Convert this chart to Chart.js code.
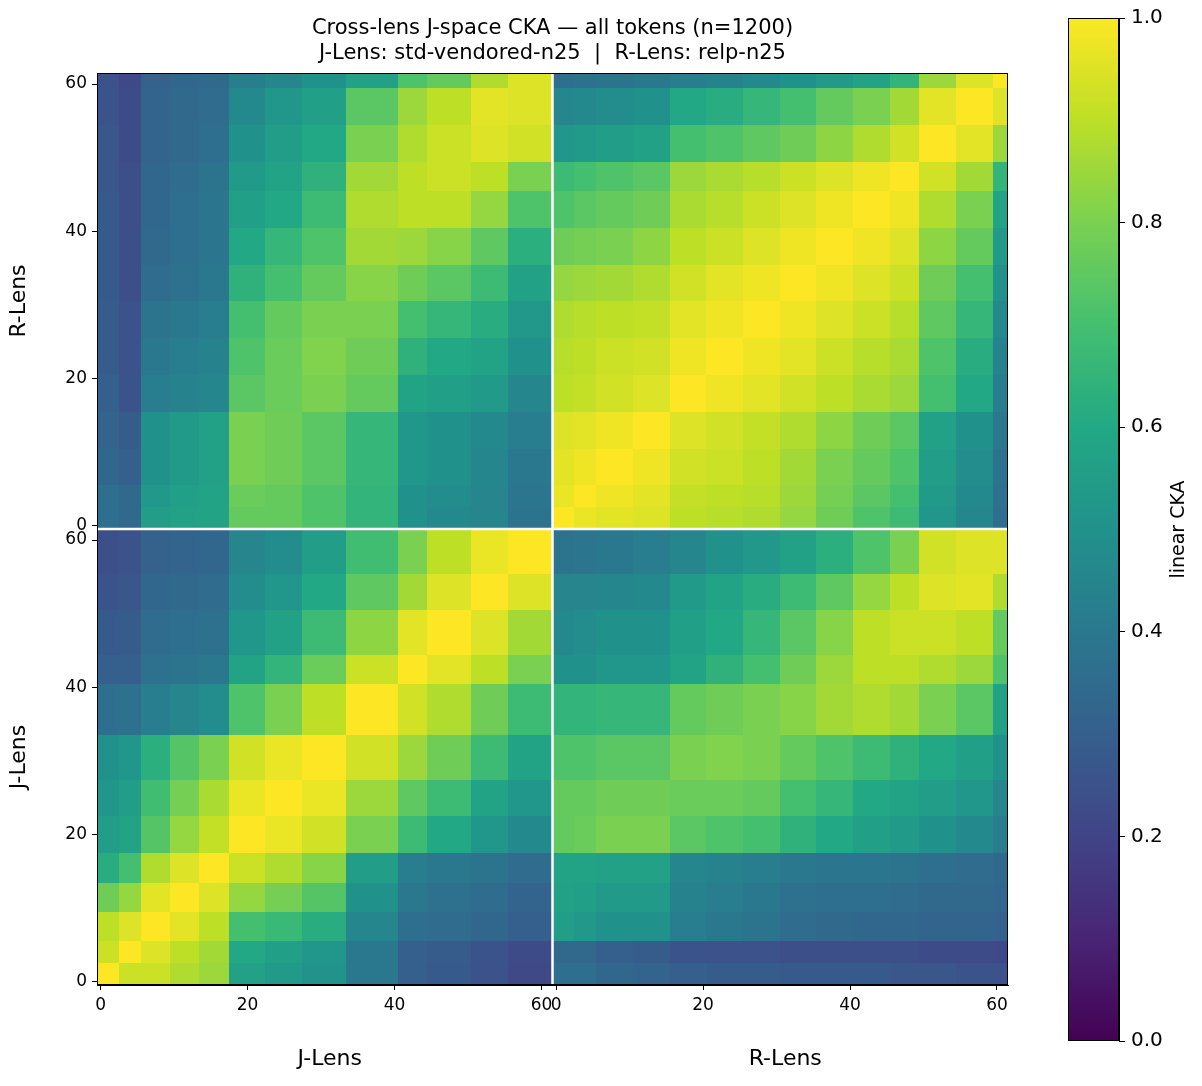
<!DOCTYPE html>
<html>
<head>
<meta charset="utf-8">
<title>Cross-lens J-space CKA</title>
<script src="https://cdn.jsdelivr.net/npm/chart.js@4.4.1/dist/chart.umd.min.js"></script>
<style>
  html, body { margin: 0; padding: 0; background: #fff; }
  #wrap { position: relative; width: 1202px; height: 1086px; }
  #main { position: absolute; left: 0; top: 0; }
  #cbar { position: absolute; left: 1040px; top: 0; }
</style>
</head>
<body>
<div id="wrap">
  <canvas id="main" width="1202" height="1086"></canvas>
  <canvas id="cbar" width="162" height="1086"></canvas>
</div>
<script>
// layer bins (edges) for each lens, 62 layers each
const nLayers = 62;
const jEdges = [0, 3, 6, 10, 14, 18, 23, 28, 34, 41, 45, 51, 56, 62];
const rEdges = [0, 3, 6, 11, 16, 21, 26, 31, 36, 41, 46, 50, 55, 60, 62];
const tickLayers = [0, 20, 40, 60];
const cbTicks = [0, 0.2, 0.4, 0.6, 0.8, 1.0];

// J-Lens vs J-Lens (row = J bin on y, column = J bin on x)
const ckaJJ = [
  [1.00, 0.92, 0.92, 0.88, 0.85, 0.57, 0.54, 0.51, 0.40, 0.30, 0.28, 0.25, 0.22],
  [0.92, 1.00, 0.95, 0.90, 0.86, 0.60, 0.56, 0.52, 0.40, 0.30, 0.29, 0.26, 0.23],
  [0.90, 0.95, 1.00, 0.96, 0.90, 0.70, 0.67, 0.62, 0.46, 0.36, 0.35, 0.33, 0.30],
  [0.78, 0.84, 0.96, 1.00, 0.95, 0.84, 0.79, 0.73, 0.50, 0.40, 0.37, 0.35, 0.32],
  [0.62, 0.70, 0.88, 0.95, 1.00, 0.92, 0.88, 0.82, 0.55, 0.42, 0.40, 0.38, 0.35],
  [0.55, 0.58, 0.73, 0.84, 0.91, 1.00, 0.97, 0.93, 0.80, 0.68, 0.60, 0.52, 0.47],
  [0.52, 0.55, 0.69, 0.79, 0.87, 0.97, 1.00, 0.97, 0.85, 0.75, 0.68, 0.58, 0.52],
  [0.50, 0.52, 0.63, 0.73, 0.80, 0.93, 0.97, 1.00, 0.93, 0.85, 0.78, 0.68, 0.58],
  [0.36, 0.37, 0.42, 0.45, 0.48, 0.72, 0.80, 0.90, 1.00, 0.93, 0.88, 0.78, 0.68],
  [0.30, 0.30, 0.37, 0.38, 0.40, 0.58, 0.65, 0.77, 0.92, 1.00, 0.96, 0.90, 0.80],
  [0.28, 0.29, 0.35, 0.36, 0.37, 0.52, 0.57, 0.68, 0.83, 0.96, 1.00, 0.95, 0.86],
  [0.26, 0.27, 0.33, 0.34, 0.35, 0.48, 0.52, 0.60, 0.75, 0.86, 0.95, 1.00, 0.95],
  [0.24, 0.25, 0.31, 0.32, 0.33, 0.45, 0.48, 0.55, 0.69, 0.80, 0.90, 0.97, 1.00]
];

// R-Lens vs R-Lens, lower triangle (row = R bin)
const ckaRR = [
  [1.00],
  [0.97, 1.00],
  [0.96, 0.98, 1.00],
  [0.95, 0.96, 0.98, 1.00],
  [0.90, 0.91, 0.93, 0.95, 1.00],
  [0.89, 0.90, 0.92, 0.93, 0.98, 1.00],
  [0.88, 0.89, 0.90, 0.91, 0.96, 0.98, 1.00],
  [0.84, 0.85, 0.86, 0.88, 0.93, 0.96, 0.98, 1.00],
  [0.78, 0.79, 0.80, 0.83, 0.90, 0.92, 0.95, 0.98, 1.00],
  [0.72, 0.74, 0.76, 0.78, 0.87, 0.89, 0.92, 0.95, 0.98, 1.00],
  [0.68, 0.70, 0.72, 0.74, 0.85, 0.87, 0.89, 0.92, 0.95, 0.98, 1.00],
  [0.52, 0.54, 0.55, 0.57, 0.70, 0.72, 0.75, 0.78, 0.83, 0.88, 0.93, 1.00],
  [0.46, 0.47, 0.48, 0.50, 0.60, 0.62, 0.66, 0.70, 0.76, 0.80, 0.86, 0.96, 1.00],
  [0.36, 0.37, 0.38, 0.40, 0.42, 0.44, 0.47, 0.50, 0.54, 0.58, 0.65, 0.85, 0.95, 1.00]
];

// R-Lens rows x J-Lens columns (cross-lens block)
const ckaRJ = [
  [0.36, 0.34, 0.55, 0.57, 0.58, 0.76, 0.76, 0.72, 0.65, 0.50, 0.47, 0.45, 0.38],
  [0.36, 0.34, 0.53, 0.56, 0.58, 0.77, 0.76, 0.72, 0.65, 0.50, 0.48, 0.45, 0.39],
  [0.33, 0.30, 0.50, 0.54, 0.57, 0.80, 0.78, 0.74, 0.66, 0.52, 0.50, 0.46, 0.40],
  [0.32, 0.29, 0.50, 0.54, 0.57, 0.80, 0.78, 0.74, 0.66, 0.52, 0.50, 0.47, 0.42],
  [0.30, 0.26, 0.42, 0.44, 0.46, 0.74, 0.77, 0.80, 0.76, 0.58, 0.56, 0.54, 0.46],
  [0.29, 0.25, 0.40, 0.42, 0.44, 0.72, 0.77, 0.81, 0.78, 0.64, 0.60, 0.58, 0.50],
  [0.29, 0.25, 0.38, 0.40, 0.42, 0.70, 0.76, 0.80, 0.80, 0.70, 0.66, 0.62, 0.53],
  [0.28, 0.24, 0.35, 0.37, 0.40, 0.64, 0.70, 0.76, 0.82, 0.78, 0.74, 0.68, 0.57],
  [0.28, 0.24, 0.34, 0.36, 0.39, 0.60, 0.66, 0.72, 0.86, 0.85, 0.82, 0.75, 0.63],
  [0.28, 0.24, 0.33, 0.36, 0.39, 0.56, 0.60, 0.68, 0.88, 0.90, 0.90, 0.84, 0.72],
  [0.27, 0.24, 0.33, 0.35, 0.38, 0.54, 0.58, 0.64, 0.86, 0.90, 0.92, 0.90, 0.80],
  [0.27, 0.23, 0.32, 0.34, 0.36, 0.50, 0.55, 0.60, 0.80, 0.88, 0.92, 0.95, 0.93],
  [0.26, 0.23, 0.32, 0.34, 0.35, 0.47, 0.52, 0.56, 0.74, 0.85, 0.90, 0.96, 0.95],
  [0.25, 0.22, 0.31, 0.33, 0.34, 0.42, 0.45, 0.50, 0.57, 0.72, 0.76, 0.88, 0.95]
];

// viridis colormap
const VIRIDIS = ['#440154', '#482475', '#414487', '#355f8d', '#2a788e', '#21918c',
                 '#22a884', '#44bf70', '#7ad151', '#bddf26', '#fde725'];
const vrgb = VIRIDIS.map(h => [1, 3, 5].map(i => parseInt(h.slice(i, i + 2), 16)));
function viridis(v) {
  v = Math.max(0, Math.min(1, v));
  const t = v * 10;
  const i = Math.min(9, Math.floor(t));
  const f = t - i;
  const a = vrgb[i], b = vrgb[i + 1];
  return 'rgb(' + a.map((c, k) => Math.round(c + (b[k] - c) * f)).join(',') + ')';
}

function fullMatrix(tri) {
  const n = tri.length, m = [];
  for (let i = 0; i < n; i++) {
    m.push([]);
    for (let j = 0; j < n; j++) m[i].push(j <= i ? tri[i][j] : tri[j][i]);
  }
  return m;
}
const RR = fullMatrix(ckaRR);

// one cell per bin pair, in index units (J layers 0..61, R layers 62..123)
const cells = [];
function addQuadrant(getVal, xEdges, yEdges, xOff, yOff) {
  for (let r = 0; r < yEdges.length - 1; r++) {
    for (let c = 0; c < xEdges.length - 1; c++) {
      const x0 = xOff + xEdges[c] - 0.5, x1 = xOff + xEdges[c + 1] - 0.5;
      const y0 = yOff + yEdges[r] - 0.5, y1 = yOff + yEdges[r + 1] - 0.5;
      cells.push({ x: (x0 + x1) / 2, y: (y0 + y1) / 2, x0, x1, y0, y1, v: getVal(r, c) });
    }
  }
}
addQuadrant((r, c) => ckaJJ[r][c], jEdges, jEdges, 0, 0);           // J x J
addQuadrant((r, c) => RR[r][c], rEdges, rEdges, nLayers, nLayers);   // R x R
addQuadrant((r, c) => ckaRJ[r][c], jEdges, rEdges, 0, nLayers);      // x J, y R
addQuadrant((r, c) => ckaRJ[c][r], rEdges, jEdges, nLayers, 0);      // x R, y J

const axisTicks = tickLayers.concat(tickLayers.map(t => t + nLayers));
const FONT = 'DejaVu Sans';
Chart.defaults.font.family = FONT;
Chart.defaults.color = '#000';

const heatPlugin = {
  id: 'heat',
  beforeDatasetsDraw(chart) {
    const { ctx, chartArea: a, scales: { x, y } } = chart;
    ctx.save();
    ctx.beginPath();
    ctx.rect(a.left, a.top, a.width, a.height);
    ctx.clip();
    chart.data.datasets[0].data.forEach(d => {
      const l = x.getPixelForValue(d.x0), r = x.getPixelForValue(d.x1);
      const t = y.getPixelForValue(d.y1), b = y.getPixelForValue(d.y0);
      ctx.fillStyle = viridis(d.v);
      ctx.fillRect(Math.floor(l), Math.floor(t), Math.ceil(r) - Math.floor(l), Math.ceil(b) - Math.floor(t));
    });
    // white lines between the lenses
    const sx = x.getPixelForValue(nLayers - 0.5), sy = y.getPixelForValue(nLayers - 0.5);
    ctx.strokeStyle = '#fff';
    ctx.lineWidth = 2.5;
    ctx.beginPath();
    ctx.moveTo(sx, a.top); ctx.lineTo(sx, a.bottom);
    ctx.moveTo(a.left, sy); ctx.lineTo(a.right, sy);
    ctx.stroke();
    ctx.restore();
  },
  afterDraw(chart) {
    const { ctx, chartArea: a, scales: { x, y } } = chart;
    ctx.save();
    ctx.strokeStyle = '#000';
    ctx.lineWidth = 1;
    ctx.strokeRect(a.left + 0.5, a.top + 0.5, a.width - 1, a.height - 1);

    ctx.fillStyle = '#000';
    ctx.textAlign = 'center';
    ctx.textBaseline = 'middle';
    const cx = (a.left + a.right) / 2;
    ctx.font = '21px "' + FONT + '"';
    ctx.fillText('Cross-lens J-space CKA \u2014 all tokens (n=1200)', cx, 29);
    ctx.fillText('J-Lens: std-vendored-n25  |  R-Lens: relp-n25', cx, 54);

    const mid = (nLayers - 1) / 2;
    ctx.font = '22px "' + FONT + '"';
    ctx.fillText('J-Lens', x.getPixelForValue(mid) + 5, 1059);
    ctx.fillText('R-Lens', x.getPixelForValue(nLayers + mid) + 5, 1059);

    [['J-Lens', mid], ['R-Lens', nLayers + mid]].forEach(([txt, v]) => {
      ctx.save();
      ctx.translate(19, y.getPixelForValue(v));
      ctx.rotate(-Math.PI / 2);
      ctx.fillText(txt, 0, 0);
      ctx.restore();
    });
    ctx.restore();
  }
};

function layerAxis(fitKey, fitSize) {
  return {
    type: 'linear',
    min: -0.5,
    max: 2 * nLayers - 0.5,
    afterBuildTicks: s => { s.ticks = axisTicks.map(v => ({ value: v })); },
    afterFit: s => { s[fitKey] = fitSize; },
    ticks: {
      autoSkip: false,
      maxRotation: 0,
      padding: 5,
      font: { size: 17 },
      color: '#000',
      callback: v => (v > nLayers - 1 ? v - nLayers : v)
    },
    grid: { drawOnChartArea: false, drawTicks: true, tickLength: 5, color: '#000' },
    border: { display: true, color: '#000' }
  };
}

new Chart(document.getElementById('main'), {
  type: 'scatter',
  data: { datasets: [{ data: cells, pointRadius: 0, pointHoverRadius: 0 }] },
  options: {
    responsive: false,
    animation: false,
    events: [],
    layout: { padding: { left: 52, right: 194, top: 73, bottom: 61 } },
    plugins: { legend: { display: false }, tooltip: { enabled: false } },
    scales: {
      x: layerAxis('height', 40),
      y: layerAxis('width', 45)
    }
  },
  plugins: [heatPlugin]
});

// colour bar
const cbPlugin = {
  id: 'cbar',
  beforeDatasetsDraw(chart) {
    const { ctx, chartArea: a, scales: { y } } = chart;
    const n = 256;
    for (let i = 0; i < n; i++) {
      const t = y.getPixelForValue((i + 1) / n), b = y.getPixelForValue(i / n);
      ctx.fillStyle = viridis((i + 0.5) / n);
      ctx.fillRect(a.left, Math.floor(t), a.width, Math.ceil(b) - Math.floor(t));
    }
  },
  afterDraw(chart) {
    const { ctx, chartArea: a } = chart;
    ctx.save();
    ctx.strokeStyle = '#000';
    ctx.lineWidth = 1;
    ctx.strokeRect(a.left + 0.5, a.top + 0.5, a.width - 1, a.height - 1);
    ctx.fillStyle = '#000';
    ctx.font = '19px "' + FONT + '"';
    ctx.textAlign = 'center';
    ctx.textBaseline = 'middle';
    ctx.translate(139, (a.top + a.bottom) / 2);
    ctx.rotate(-Math.PI / 2);
    ctx.fillText('linear CKA', 0, 0);
    ctx.restore();
  }
};

new Chart(document.getElementById('cbar'), {
  type: 'scatter',
  data: { datasets: [{ data: [] }] },
  options: {
    responsive: false,
    animation: false,
    events: [],
    layout: { padding: { left: 28, right: 23, top: 17, bottom: 45 } },
    plugins: { legend: { display: false }, tooltip: { enabled: false } },
    scales: {
      x: { display: false, min: 0, max: 1 },
      y: {
        position: 'right',
        min: 0,
        max: 1,
        afterBuildTicks: s => { s.ticks = cbTicks.map(v => ({ value: v })); },
        afterFit: s => { s.width = 60; },
        ticks: { padding: 6, font: { size: 20 }, color: '#000', callback: v => v.toFixed(1) },
        grid: { drawOnChartArea: false, drawTicks: true, tickLength: 6, color: '#000' },
        border: { display: true, color: '#000' }
      }
    }
  },
  plugins: [cbPlugin]
});
</script>
</body>
</html>
